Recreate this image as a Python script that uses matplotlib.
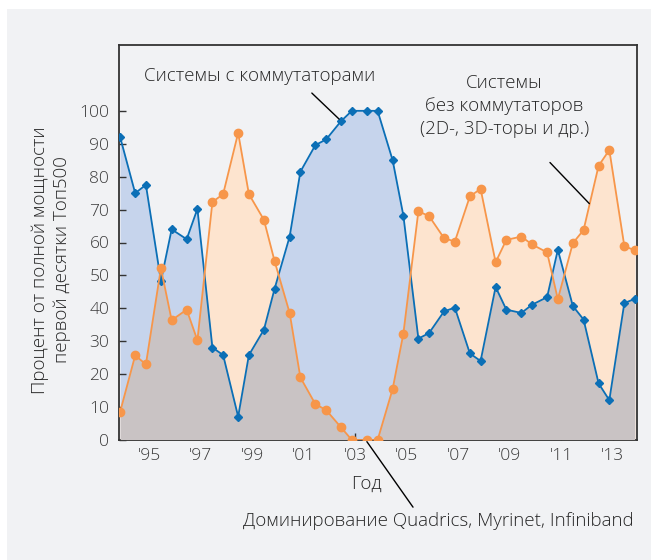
import numpy as np
import matplotlib.pyplot as plt
from matplotlib.patches import Rectangle

# Top500 lists (June / November)
list_dates = [
    "1993-11", "1994-06", "1994-11", "1995-06", "1995-11", "1996-06", "1996-11",
    "1997-06", "1997-11", "1998-06", "1998-11", "1999-06", "1999-11", "2000-06",
    "2000-11", "2001-06", "2001-11", "2002-06", "2002-11", "2003-06", "2003-11",
    "2004-06", "2004-11", "2005-06", "2005-11", "2006-06", "2006-11", "2007-06",
    "2007-11", "2008-06", "2008-11", "2009-06", "2009-11", "2010-06", "2010-11",
    "2011-06", "2011-11", "2012-06", "2012-11", "2013-06", "2013-11",
]

# share of top-10 performance, %
switched = [
    92, 75, 77.5, 48.3, 64, 61, 70.2, 28.1, 25.8, 7.1, 25.8, 33.5, 46, 61.8,
    81.5, 89.6, 91.3, 96.9, 100, 100, 100, 85, 68.2, 30.8, 32.5, 39.1, 40.2,
    26.3, 24, 46.5, 39.6, 38.6, 41.1, 43.4, 57.8, 40.7, 36.6, 17.2, 12.1, 41.6, 42.9,
]
switchless = [
    8.6, 25.7, 23, 52.2, 36.4, 39.6, 30.3, 72.3, 74.7, 93.3, 74.7, 66.9, 54.3,
    38.6, 19, 10.9, 9.1, 3.8, 0, 0, 0, 15.5, 32.3, 69.5, 68, 61.3, 60.3, 74, 76.3,
    54, 60.8, 61.8, 59.4, 57, 42.8, 59.8, 63.8, 83.3, 88.1, 58.9, 57.6,
]

tick_years = [1995, 1997, 1999, 2001, 2003, 2005, 2007, 2009, 2011, 2013]
tick_labels = ["'95", "'97", "'99", "'01", "'03", "'05", "'07", "'09", "'11", "'13"]
y_ticks = list(range(0, 101, 10))

# convert "YYYY-MM" to fractional year (middle of month)
x = np.array([int(d[:4]) + (int(d[5:]) - 0.5) / 12 for d in list_dates])
b = np.array(switched)
o = np.array(switchless)

BG = "#f1f2f4"
BLUE = "#0b6fb6"
BLUE_FILL = "#c6d4ec"
ORANGE = "#f7964a"
ORANGE_FILL = "#fde4cf"
GRAY_FILL = "#c9c3c4"
TXT = "#262626"

plt.rcParams["font.family"] = ["Open Sans", "DejaVu Sans"]
plt.rcParams["font.weight"] = "light"

W, H = 651, 560
fig = plt.figure(figsize=(W / 100, H / 100), dpi=100, facecolor="white")
fig.patches.append(Rectangle((7 / W, 0), 1, 1 - 9 / H, transform=fig.transFigure,
                             facecolor=BG, edgecolor="none", zorder=-10))

ax = fig.add_axes([119 / W, 1 - 440 / H, (637 - 119) / W, (440 - 45) / H])
ax.set_facecolor(BG)

# areas: blue under switched, orange under switchless, gray where both overlap
ax.fill_between(x, 0, b, color=BLUE_FILL, lw=0, zorder=1)
po = ax.fill_between(x, 0, o, color=ORANGE_FILL, lw=0, zorder=2)
pg = ax.fill_between(x, 0, b, color=GRAY_FILL, lw=0, zorder=3)
pg.set_clip_path(po.get_paths()[0], ax.transData)

ax.plot(x, b, color=BLUE, lw=1.3, marker="D", ms=4.5, zorder=5)
ax.plot(x, o, color=ORANGE, lw=1.3, marker="o", ms=6, zorder=6)

ax.set_xlim(1993.83, 2013.95)
ax.set_ylim(0, 120)
ax.set_xticks(tick_years)
ax.set_xticklabels(tick_labels)
ax.set_yticks(y_ticks)
ax.tick_params(direction="in", length=5, width=1, color="#333333",
               labelsize=12.5, labelcolor="#3a3a3a")
ax.tick_params(axis="x", pad=6)
ax.tick_params(axis="y", pad=7)
for s in ax.spines.values():
    s.set_color("#333333")
    s.set_linewidth(1.3)

fs = 13.5
fig.text(51 / W, 1 - 260 / H, "Процент от полной мощности\nпервой десятки Топ500",
         rotation=90, ha="center", va="center", fontsize=fs, color=TXT,
         multialignment="center", linespacing=1.3)
fig.text(366 / W, 1 - 484 / H, "Год", ha="center", va="center", fontsize=fs, color=TXT)

ax.text(1999.31, 110.6, "Системы с коммутаторами", ha="center", va="center",
        fontsize=fs, color=TXT)
ax.annotate("", xy=(x[17], b[17]), xytext=(2001.32, 105.4),
            arrowprops=dict(arrowstyle="-", color="black", lw=1,
                            shrinkA=0, shrinkB=2), zorder=7)

ax.text(2008.8, 101.5, "Системы\nбез коммутаторов\n(2D-, 3D-торы и др.)",
        ha="center", va="center", fontsize=fs, color=TXT, linespacing=1.35,
        multialignment="center")
ax.annotate("", xy=(2012.10, 71.8), xytext=(2010.57, 84.3),
            arrowprops=dict(arrowstyle="-", color="black", lw=1,
                            shrinkA=0, shrinkB=0), zorder=7)

ax.annotate("", xy=(2005.25, -20.4), xytext=(x[19], -0.5),
            arrowprops=dict(arrowstyle="-", color="black", lw=1,
                            shrinkA=0, shrinkB=0), annotation_clip=False, zorder=7)
fig.text(438 / W, 1 - 521 / H, "Доминирование Quadrics, Myrinet, Infiniband",
         ha="center", va="center", fontsize=fs, color=TXT)

fig.savefig("out.png", dpi=100, facecolor="white")
